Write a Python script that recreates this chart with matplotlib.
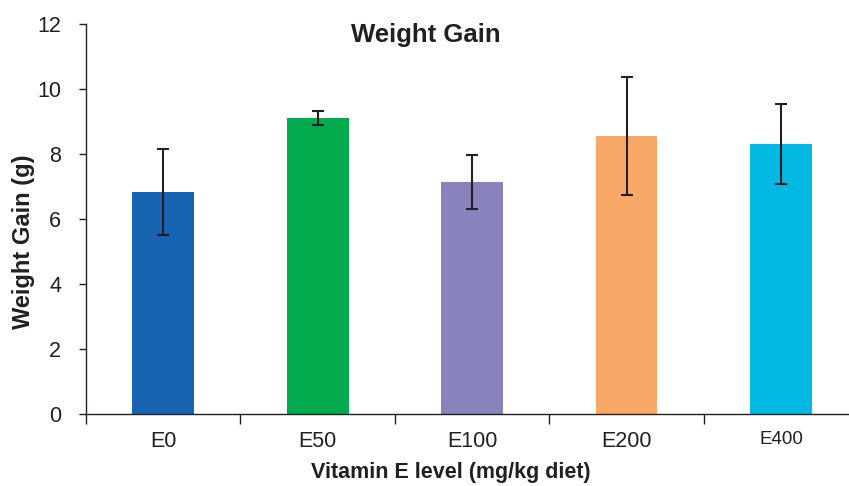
import numpy as np
import matplotlib.pyplot as plt

plt.rcParams['font.family'] = ['Liberation Sans', 'DejaVu Sans']

levels = ['E0', 'E50', 'E100', 'E200', 'E400']
gain = [6.83, 9.11, 7.14, 8.55, 8.31]
err = [1.33, 0.22, 0.82, 1.81, 1.23]
colors = ['#1765b2', '#00aa4d', '#8882bd', '#f8a867', '#03b9e1']

ink = '#231f20'

W, H = 849, 486
fig = plt.figure(figsize=(W / 100, H / 100), dpi=100)
ax = fig.add_axes([86 / W, 1 - 414 / H, 1 - 86 / W, 390 / H])

x = np.arange(len(levels))
ax.bar(x, gain, width=0.4, color=colors, zorder=2)
ax.errorbar(x, gain, yerr=err, fmt='none', ecolor=ink, elinewidth=1.5,
            capsize=4, capthick=1.5, zorder=3)

ax.set_xlim(-0.5, 4.44)
ax.set_ylim(0, 12)
ax.set_yticks(range(0, 13, 2))

# category labels at centres, ticks at the boundaries
ax.set_xticks(x)
ax.set_xticklabels(levels)
ax.set_xticks(np.arange(-0.5, 4.5, 1), minor=True)
ax.tick_params(axis='x', which='major', length=0, pad=12.5, labelsize=15.5, colors=ink)
ax.tick_params(axis='x', which='minor', length=7, width=1, direction='out', color=ink)
ax.tick_params(axis='y', length=5, width=1, direction='out', labelsize=15.5, colors=ink, pad=13)
ax.get_xticklabels()[-1].set_fontsize(13.5)

for s in ['top', 'right']:
    ax.spines[s].set_visible(False)
for s in ['left', 'bottom']:
    ax.spines[s].set_color(ink)
    ax.spines[s].set_linewidth(1)

fig.text(24 / W, 1 - 242 / H, 'Weight Gain (g)', rotation=90, ha='center', va='center',
         fontsize=17, fontweight='bold', color=ink)
fig.text(451 / W, 1 - 472 / H, 'Vitamin E level (mg/kg diet)', ha='center', va='center',
         fontsize=15.5, fontweight='bold', color=ink)
fig.text(426 / W, 1 - 35 / H, 'Weight Gain', ha='center', va='center',
         fontsize=18.5, fontweight='bold', color=ink)

fig.savefig('out.png', dpi=100)
